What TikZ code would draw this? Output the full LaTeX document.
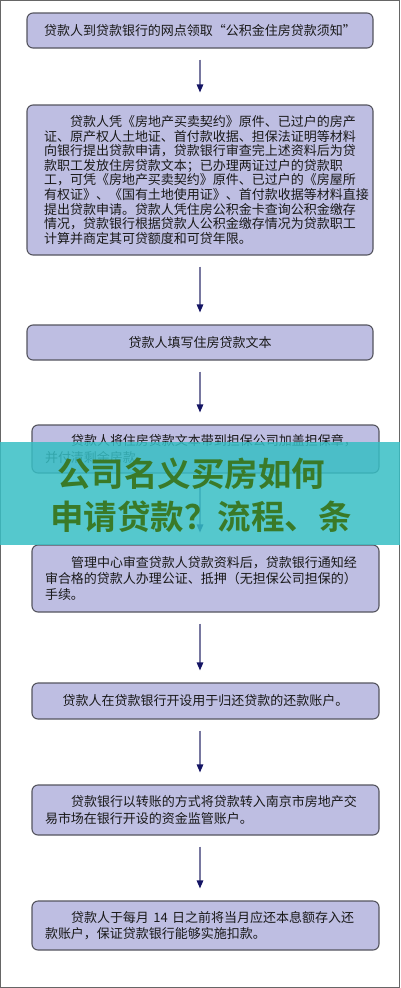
\documentclass[tikz,border=0pt]{standalone}
\usepackage{fontspec}
\usepackage{xcolor}
\newfontfamily\cjk{Noto Sans CJK SC}[BoldFont={Noto Sans CJK SC Bold}]
\usetikzlibrary{arrows.meta, positioning}
\definecolor{boxfill}{RGB}{190,190,226}
\definecolor{boxline}{RGB}{85,85,95}
\definecolor{arrowline}{RGB}{120,120,160}
\definecolor{arrowhead}{RGB}{20,20,100}
\definecolor{bandfill}{RGB}{55,190,196}
\definecolor{titlegreen}{RGB}{58,122,40}

\begin{document}
\begin{tikzpicture}[
  x=1pt, y=-1pt,
  stepbox/.style={draw=boxline, line width=1.1pt, fill=boxfill, rounded corners=6pt, minimum width=346pt, inner ysep=0pt, text=black!90, font=\cjk\fontsize{13}{16.4}\selectfont},
  onerow/.style={stepbox, align=center},
  textbox/.style={stepbox, align=left, inner xsep=13pt, text width=321pt, minimum width=347pt},
  flowarrow/.style={draw=arrowline, line width=1.3pt, -{Triangle[length=8pt, width=6.5pt, color=arrowhead]}, shorten <=11pt, shorten >=12pt},
  title/.style={text=titlegreen, font=\cjk\bfseries\fontsize{33.5}{33.5}\selectfont, inner sep=0pt}
]
  \useasboundingbox (0,0) rectangle (400,988);
  \draw[black!60, line width=1pt] (0.5,0.5) rectangle (399.5,987.5);

  % Steps
  \node[onerow, minimum height=35pt] (b1) at (200,30.5) {贷款人到贷款银行的网点领取“公积金住房贷款须知”};
  \node[textbox, inner xsep=17pt, text width=312pt, minimum width=346pt, minimum height=150pt,
        font=\cjk\fontsize{13}{14.6}\selectfont] (b2) at (200,180) {%
    \hspace*{2em}贷款人凭《房地产买卖契约》原件、已过户的房产\\
    证、原产权人土地证、首付款收据、担保法证明等材料\\
    向银行提出贷款申请，贷款银行审查完上述资料后为贷\\
    款职工发放住房贷款文本；已办理两证过户的贷款职\\
    工，可凭《房地产买卖契约》原件、已过户的《房屋所\\
    有权证》、《国有土地使用证》、首付款收据等材料直接\\
    提出贷款申请。贷款人凭住房公积金卡查询公积金缴存\\
    情况，贷款银行根据贷款人公积金缴存情况为贷款职工\\
    计算并商定其可贷额度和可贷年限。};
  \node[onerow, minimum height=35pt] (b3) at (200,342.5) {贷款人填写住房贷款文本};
  \node[textbox, minimum height=48pt] (b4) at (205.5,449) {%
    \hspace*{2em}贷款人将住房贷款文本带到担保公司加盖担保章，\\
    并付清剩余房款。};
  \node[textbox, minimum height=67pt] (b5) at (205.5,578.5) {%
    \hspace*{2em}管理中心审查贷款人贷款资料后，贷款银行通知经\\
    审合格的贷款人办理公证、抵押（无担保公司担保的）\\
    手续。};
  \node[onerow, minimum width=347pt, minimum height=36pt] (b6) at (205.5,701) {贷款人在贷款银行开设用于归还贷款的还款账户。};
  \node[textbox, minimum height=50pt] (b7) at (205.5,810) {%
    \hspace*{2em}贷款银行以转账的方式将贷款转入南京市房地产交\\
    易市场在银行开设的资金监管账户。};
  \node[textbox, minimum height=49pt] (b8) at (205.5,925.5) {%
    \hspace*{2em}贷款人于每月 14 日之前将当月应还本息额存入还\\
    款账户，保证贷款银行能够实施扣款。};

  % Arrows
  \foreach \a/\b in {b1/b2, b2/b3, b3/b4, b4/b5, b5/b6, b6/b7, b7/b8} {
    \draw[flowarrow] (b1 |- \a.south) -- (b1 |- \b.north);
  }

  % Banner
  \fill[bandfill, opacity=0.85] (0,442) rectangle (400,545);
  \node[title] (t1) at (191,474) {公司名义买房如何};
  \node[title] (t2) at (201,517) {申请贷款？流程、条};
\end{tikzpicture}
\end{document}
